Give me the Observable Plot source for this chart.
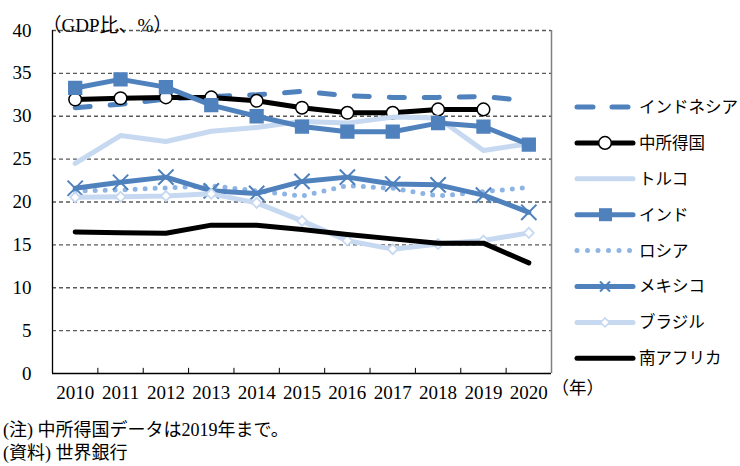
<!DOCTYPE html>
<html><head><meta charset="utf-8">
<script src="https://cdn.jsdelivr.net/npm/d3@7"></script>
<script src="https://cdn.jsdelivr.net/npm/@observablehq/plot@0.6"></script>
<style>
body{margin:0;background:#fff;width:740px;height:466px;overflow:hidden;position:relative;font-family:"Liberation Serif","Noto Sans CJK JP",serif;color:#000;}
#chart{position:absolute;left:0;top:0;}
#legend{position:absolute;left:0;top:0;}
.note{position:absolute;left:3px;font-size:18px;line-height:20px;white-space:nowrap;}
</style></head><body>
<div id="chart"></div>
<svg id="legend" width="740" height="400"></svg>
<div class="note" style="top:420px">(注) 中所得国データは2019年まで。</div>
<div class="note" style="top:443px">(資料) 世界銀行</div>
<script>
const years = [2010,2011,2012,2013,2014,2015,2016,2017,2018,2019,2020];
const yTicks = [0,5,10,15,20,25,30,35,40];
const seriesNames = ["インドネシア","中所得国","トルコ","インド","ロシア","メキシコ","ブラジル","南アフリカ"];
const indonesia = [31.0,31.4,32.0,32.3,32.5,32.9,32.4,32.2,32.2,32.3,31.8];
const middleIncome = [31.95,32.1,32.2,32.2,31.8,31.0,30.4,30.4,30.8,30.8];
const turkey = [24.5,27.75,27.05,28.25,28.7,29.4,29.2,29.9,29.8,26.0,26.8];
const india = [33.3,34.3,33.4,31.3,30.0,28.8,28.2,28.2,29.2,28.8,26.7];
const russia = [21.3,21.4,21.65,21.9,21.3,20.7,21.9,21.6,20.7,21.2,21.7];
const mexico = [21.6,22.3,22.9,21.3,21.0,22.4,22.9,22.1,22.0,20.8,18.8];
const brazil = [20.55,20.6,20.7,20.95,19.9,17.8,15.5,14.5,15.1,15.5,16.4];
const southAfrica = [16.5,16.4,16.35,17.3,17.3,16.8,16.2,15.7,15.2,15.2,12.9];
const yTitle = "（GDP比、%）";
const xUnit = "（年）";

const BLUE = "#4f81bd", LIGHT = "#c6d9f1", MID = "#8db4e2";
const styles = [
  {vals: indonesia, stroke: BLUE, dash: "15,20"},
  {vals: middleIncome, stroke: "#000", marker: "circle"},
  {vals: turkey, stroke: LIGHT},
  {vals: india, stroke: BLUE, marker: "square"},
  {vals: russia, stroke: MID, dash: "0,10"},
  {vals: mexico, stroke: BLUE, marker: "times"},
  {vals: brazil, stroke: LIGHT, marker: "diamond"},
  {vals: southAfrica, stroke: "#000"}
];
const rows = s => s.vals.map((v,i)=>({year: years[i], value: v}));
const bounds = years.map(y=>y-0.5).concat([years[years.length-1]+0.5]);

const marks = [
  Plot.ruleY(yTicks.filter(d=>d>0), {y: d=>d, stroke:"#595959", strokeWidth:1.3, strokeDasharray:"4,3"}),
  Plot.ruleX([bounds[bounds.length-1]], {x:d=>d, y1:0, y2:40, stroke:"#808080", strokeWidth:1.5}),
  Plot.ruleX(bounds.slice(1,-1), {x:d=>d, y1:0, y2:0.6, stroke:"#000", strokeWidth:1}),
  Plot.ruleX([bounds[0]], {x:d=>d, y1:0, y2:40, stroke:"#000", strokeWidth:1.3}),
  Plot.ruleY([0], {y:d=>d, stroke:"#000", strokeWidth:1.5}),
  Plot.axisY({ticks: yTicks, tickSize:0, tickPadding:21, fontSize:19, fill:"#000", label:null}),
  Plot.axisX({ticks: years, tickSize:0, tickPadding:12, tickFormat:d=>String(d), fontSize:19, fill:"#000", label:null}),
  Plot.text([yTitle], {frameAnchor:"top-left", dx:-10, dy:-12, text:d=>d, textAnchor:"start", fontSize:19, fill:"#000"}),
  Plot.text([xUnit], {frameAnchor:"bottom-right", dx:0, dy:20, text:d=>d, textAnchor:"start", fontSize:17.5, fill:"#000"})
];
for (const s of styles) {
  const d = rows(s);
  marks.push(Plot.line(d, {x:"year", y:"value", stroke:s.stroke, strokeWidth:5, strokeDasharray:s.dash, strokeLinecap:"round", strokeLinejoin:"round"}));
  if (s.marker === "circle") marks.push(Plot.dot(d, {x:"year", y:"value", r:6.3, fill:"white", stroke:"#000", strokeWidth:1.5}));
  if (s.marker === "square") marks.push(Plot.dot(d, {x:"year", y:"value", symbol:"square", r:7.2, fill:BLUE, stroke:BLUE}));
  if (s.marker === "times") marks.push(Plot.dot(d, {x:"year", y:"value", symbol:"times", r:7, fill:"none", stroke:BLUE, strokeWidth:2}));
  if (s.marker === "diamond") marks.push(Plot.dot(d, {x:"year", y:"value", symbol:"diamond2", r:4.5, fill:"white", stroke:LIGHT, strokeWidth:1.8}));
}

const chart = Plot.plot({
  width: 740, height: 410,
  marginLeft: 52, marginRight: 189, marginTop: 30, marginBottom: 37,
  x: {type:"linear", domain:[bounds[0], bounds[bounds.length-1]], label:null},
  y: {domain:[0,40], label:null},
  style: {fontFamily:'"Liberation Serif","Noto Sans CJK JP",serif', fontSize:"19px", color:"#000", background:"transparent"},
  marks
});
document.getElementById("chart").appendChild(chart);

// legend
const lg = d3.select("#legend");
seriesNames.forEach((name,i)=>{
  const s = styles[i];
  const cy = 107 + i*35.9;
  lg.append("line").attr("x1",577).attr("x2",633).attr("y1",cy).attr("y2",cy)
    .attr("stroke",s.stroke).attr("stroke-width",5).attr("stroke-linecap","round")
    .attr("stroke-dasharray", s.dash ? (s.dash==="0,10" ? "0,10.5" : "16,19") : null);
  if (s.marker==="circle") lg.append("circle").attr("cx",605).attr("cy",cy).attr("r",6.3).attr("fill","white").attr("stroke","#000").attr("stroke-width",1.5);
  if (s.marker==="square") lg.append("rect").attr("x",599).attr("y",cy-6.5).attr("width",13).attr("height",13).attr("fill",BLUE);
  if (s.marker==="times") lg.append("path").attr("d",`M${600},${cy-5}L${610},${cy+5}M${610},${cy-5}L${600},${cy+5}`).attr("stroke",BLUE).attr("stroke-width",2);
  if (s.marker==="diamond") lg.append("path").attr("d",`M605,${cy-4.5}L609.5,${cy}L605,${cy+4.5}L600.5,${cy}Z`).attr("fill","white").attr("stroke",LIGHT).attr("stroke-width",1.5);
  lg.append("text").attr("x",639).attr("y",cy).attr("dy","0.36em").attr("font-size","16.5px")
    .attr("font-family",'"Liberation Serif","Noto Sans CJK JP",serif').text(name);
});
</script>
</body></html>
